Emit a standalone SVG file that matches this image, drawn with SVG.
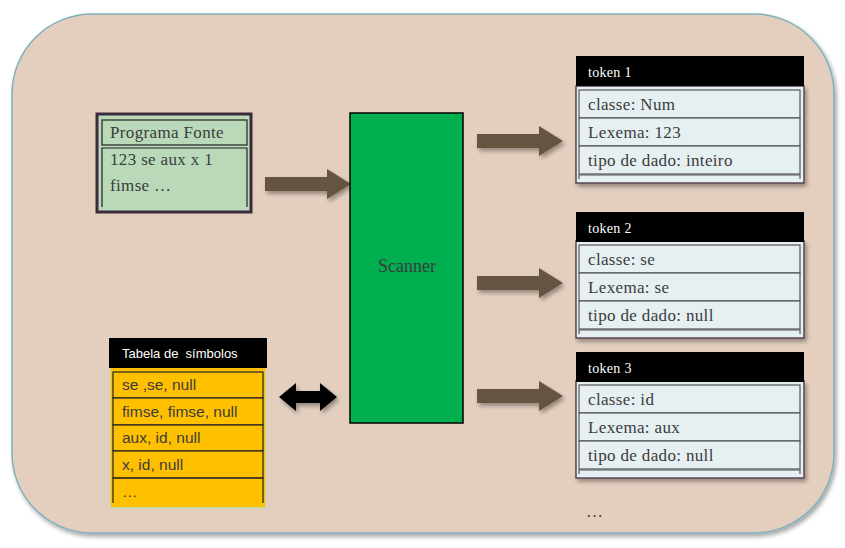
<svg xmlns="http://www.w3.org/2000/svg" width="845" height="548" viewBox="0 0 845 548">
<defs>
<filter id="sh" x="-10%" y="-10%" width="130%" height="130%"><feDropShadow dx="2" dy="3" stdDeviation="2" flood-color="#000" flood-opacity="0.35"/></filter>
<path id="arr" d="M0,-7 L62,-7 L62,-15 L86,0 L62,15 L62,7 L0,7 Z"/>
</defs>
<style>
.serif{font-family:"Liberation Serif","DejaVu Serif",serif;font-size:17px;letter-spacing:0.35px;fill:#3c3c3c}
.hdr{font-family:"Liberation Serif","DejaVu Serif",serif;font-size:14px;letter-spacing:0.3px;fill:#fff}
.sans{font-family:"Liberation Sans",Arial,sans-serif;font-size:15.5px;fill:#3c3c3c}
.row{fill:#e6eff2;stroke:#555;stroke-width:1.2}
.trow{fill:#ffc000;stroke:#222;stroke-width:1.2}
.brown{fill:#655540}
</style>
<rect x="12" y="14" width="822" height="519" rx="80" ry="80" fill="#e4cfbf" stroke="#7fb0bc" stroke-width="1.5" filter="url(#sh)"/>

<g id="connectors">
<use href="#arr" x="265" y="184" class="brown" filter="url(#sh)"/>
<use href="#arr" x="477" y="141" class="brown" filter="url(#sh)"/>
<use href="#arr" x="477" y="283" class="brown" filter="url(#sh)"/>
<use href="#arr" x="477" y="396" class="brown" filter="url(#sh)"/>
<path d="M279,397 L296,383 L296,391 L320,391 L320,383 L337,397 L320,411 L320,403 L296,403 L296,411 Z" fill="#000" filter="url(#sh)"/>
</g>

<g id="programa-fonte">
<rect x="97" y="114" width="154" height="98" fill="#b9d9b9" stroke="#3c2b3c" stroke-width="3"/>
<rect x="102" y="120" width="145" height="25" fill="none" stroke="#222" stroke-width="1.2"/>
<path d="M102,207 L102,148 L247,148 L247,207" fill="none" stroke="#222" stroke-width="1.2"/>
<text x="110" y="138" class="serif">Programa Fonte</text>
<text x="110" y="165" class="serif">123 se aux x 1</text>
<text x="110" y="191" class="serif">fimse …</text>
</g>

<g id="scanner">
<rect x="350" y="113" width="113" height="310" fill="#00b050" stroke="#000" stroke-width="1.5"/>
<text x="407" y="272" class="serif" text-anchor="middle" style="font-size:18px;letter-spacing:0">Scanner</text>
</g>

<g id="token1">
<g filter="url(#sh)"><rect x="576" y="86" width="228" height="97" fill="#e6eff2" stroke="#5a4455" stroke-width="1.5"/></g>
<rect x="576" y="56" width="228" height="30" fill="#000"/>
<rect x="579" y="90" width="221" height="28" class="row"/>
<rect x="579" y="118" width="221" height="28" class="row"/>
<rect x="579" y="146" width="221" height="28" class="row"/>
<path d="M579,179 L579,175 L800,175 L800,179" fill="none" stroke="#555" stroke-width="1.2"/>
<text x="588" y="77" class="hdr">token 1</text>
<text x="588" y="110" class="serif">classe: Num</text>
<text x="588" y="138" class="serif">Lexema: 123</text>
<text x="588" y="166" class="serif">tipo de dado: inteiro</text>
</g>

<g id="token2">
<g filter="url(#sh)"><rect x="576" y="241" width="228" height="97" fill="#e6eff2" stroke="#5a4455" stroke-width="1.5"/></g>
<rect x="576" y="212" width="228" height="30" fill="#000"/>
<rect x="579" y="245" width="221" height="28" class="row"/>
<rect x="579" y="273" width="221" height="28" class="row"/>
<rect x="579" y="301" width="221" height="28" class="row"/>
<path d="M579,334 L579,330 L800,330 L800,334" fill="none" stroke="#555" stroke-width="1.2"/>
<text x="588" y="233" class="hdr">token 2</text>
<text x="588" y="265" class="serif">classe: se</text>
<text x="588" y="293" class="serif">Lexema: se</text>
<text x="588" y="321" class="serif">tipo de dado: null</text>
</g>

<g id="token3">
<g filter="url(#sh)"><rect x="576" y="381" width="228" height="97" fill="#e6eff2" stroke="#5a4455" stroke-width="1.5"/></g>
<rect x="576" y="352" width="228" height="30" fill="#000"/>
<rect x="579" y="385" width="221" height="28" class="row"/>
<rect x="579" y="413" width="221" height="28" class="row"/>
<rect x="579" y="441" width="221" height="28" class="row"/>
<path d="M579,474 L579,470 L800,470 L800,474" fill="none" stroke="#555" stroke-width="1.2"/>
<text x="588" y="373" class="hdr">token 3</text>
<text x="588" y="405" class="serif">classe: id</text>
<text x="588" y="433" class="serif">Lexema: aux</text>
<text x="588" y="461" class="serif">tipo de dado: null</text>
</g>

<g id="tabela-simbolos">
<rect x="110" y="367" width="156" height="141" fill="#ffc000" stroke="#c8dcc8" stroke-width="1.5"/>
<rect x="109" y="338" width="158" height="30" fill="#000"/>
<rect x="113" y="372" width="150" height="26" class="trow"/>
<rect x="113" y="398" width="150" height="27" class="trow"/>
<rect x="113" y="425" width="150" height="26" class="trow"/>
<rect x="113" y="451" width="150" height="27" class="trow"/>
<path d="M113,503 L113,478 L263,478 L263,503" fill="none" stroke="#222" stroke-width="1.2"/>
<text x="122" y="358" font-family="Liberation Sans, Arial, sans-serif" font-size="13" fill="#fff" xml:space="preserve">Tabela de  símbolos</text>
<text x="122" y="390" class="sans">se ,se, null</text>
<text x="122" y="417" class="sans">fimse, fimse, null</text>
<text x="122" y="443" class="sans">aux, id, null</text>
<text x="122" y="470" class="sans">x, id, null</text>
<text x="122" y="497" class="sans">…</text>
</g>

<text x="586" y="517" class="serif">…</text>
</svg>
